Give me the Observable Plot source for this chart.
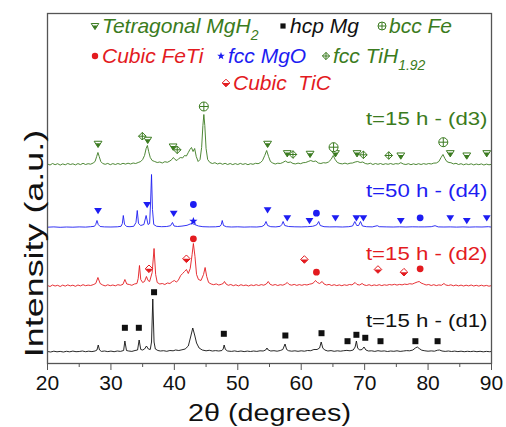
<!DOCTYPE html>
<html><head><meta charset="utf-8">
<script src="https://cdn.jsdelivr.net/npm/d3@7"></script>
<script src="https://cdn.jsdelivr.net/npm/@observablehq/plot@0.6"></script>
<style>
body{margin:0;background:#fff;}
#wrap{position:relative;width:506px;height:427px;font-family:"Liberation Sans",Arial,sans-serif;}
#wrap > svg{position:absolute;left:0;top:0;}
.leg{position:absolute;display:flex;align-items:center;height:26px;font-style:italic;font-size:21px;white-space:nowrap;line-height:26px;}
#wrap .leg svg{position:static;margin-right:2px;overflow:visible;}
.leg sub{font-size:14px;vertical-align:-7px;line-height:0;}
</style></head><body><div id="wrap"></div>
<script>
// ---- XRD patterns: [2theta, intensity above own baseline] ----
const d1 = [[20,0.5],[20.5,0],[21,0.8],[21.5,0.2],[22,0.6],[22.5,0],[23,0.7],[23.5,0.2],[24,0.9],[24.5,0.3],[25,0.5],[25.5,1],[26,0.3],[26.5,0.8],[27,0.4],[27.5,1],[27.8,2],[28,7],[28.2,2],[28.5,0.6],[29,1],[29.5,0.4],[30,0.9],[30.5,0.3],[31,1],[31.5,0.6],[32,1.5],[32.2,11],[32.45,1.5],[32.8,1],[33.3,0.6],[33.8,1.5],[34.2,2],[34.45,12],[34.7,2.5],[35,2],[35.3,3],[35.6,6],[35.9,3],[36.2,2.5],[36.4,10],[36.6,53],[36.8,10],[37,3],[37.4,1.5],[37.8,1],[38.3,1.3],[38.8,0.7],[39.3,1.5],[39.8,1.2],[40.2,2],[40.7,1.5],[41.2,2.2],[41.7,3],[42.2,6],[42.6,16],[42.9,24],[43.2,17],[43.5,9],[43.9,4],[44.4,2],[45,1.2],[45.5,1.7],[46,1],[46.5,1.4],[47,1],[47.5,1.5],[47.7,3],[47.85,7],[48.05,2.5],[48.4,1],[49,0.6],[49.5,1.1],[50,0.5],[50.5,1],[51,0.4],[51.5,0.9],[52,0.5],[52.5,1],[53,0.6],[53.5,1.2],[54,1],[54.4,2],[54.6,4],[54.8,2],[55.2,1],[55.7,1.3],[56.2,0.8],[56.7,1.5],[57.1,2.5],[57.45,8],[57.7,2.5],[58,1.3],[58.5,0.8],[59,1.2],[59.5,0.7],[60,1.2],[60.5,0.8],[61,1.5],[61.5,1.3],[62,2.5],[62.5,2.5],[62.9,4],[63.15,10],[63.4,4],[63.7,2],[64.2,1],[64.7,1.4],[65.2,0.7],[65.7,1.2],[66.2,0.8],[66.7,1.3],[67.2,1.6],[67.7,1.2],[68.2,2],[68.5,5],[68.7,11],[68.9,4],[69.2,2],[69.6,2.5],[69.9,5],[70.2,2],[70.6,1],[71.1,1.2],[71.6,0.6],[72.1,1.3],[72.6,0.8],[73.1,1.1],[73.6,0.5],[74.1,1],[74.6,0.7],[75.1,1.2],[75.6,0.6],[76.1,1],[76.6,1.4],[77.1,1.2],[77.6,2],[78,4],[78.3,5],[78.6,3.5],[79,1.8],[79.5,1.2],[80,0.8],[80.5,1.1],[81,0.8],[81.5,1.8],[81.8,2],[82.2,1],[82.7,0.6],[83.2,1],[83.7,0.5],[84.2,0.9],[84.7,0.4],[85.2,0.8],[85.7,0.3],[86.2,0.7],[86.7,0.4],[87.2,0.8],[87.7,0.3],[88.2,0.7],[88.7,0.2],[89.2,0.6],[89.7,0.3],[90,0.5]];
const d2 = [[20,1],[20.4,0],[20.8,1.5],[21.2,0.5],[21.6,1.2],[22,0],[22.4,1.4],[22.8,0.4],[23.2,1.6],[23.6,0.6],[24,1.3],[24.4,0.2],[24.8,1.5],[25.2,0.6],[25.6,1.8],[26,0.8],[26.4,1.4],[26.8,1],[27.2,1.8],[27.6,3],[27.95,9],[28.3,3],[28.7,1.5],[29.1,0.6],[29.5,1.7],[29.9,0.8],[30.3,1.5],[30.7,0.7],[31.1,1.8],[31.5,1.2],[31.9,2.2],[32.2,7],[32.5,2.5],[32.9,2],[33.3,1.2],[33.7,2.5],[34.1,3],[34.3,8],[34.5,21],[34.7,7],[35,4],[35.3,5],[35.6,10],[35.85,6],[36.1,5],[36.5,14],[36.8,38],[37.05,12],[37.3,4],[37.7,2.5],[38.1,3],[38.5,2],[38.9,3.5],[39.3,3],[39.7,5],[40,6],[40.3,4.5],[40.6,6],[41,11],[41.3,13],[41.6,15],[41.9,17],[42.2,13],[42.5,18],[42.8,32],[43,43],[43.25,30],[43.5,12],[43.8,7],[44.2,6],[44.6,12],[44.85,19],[45.1,10],[45.4,4],[45.8,2.5],[46.2,1.8],[46.6,2.6],[47,1.5],[47.4,2.2],[47.7,3],[47.9,5],[48.15,2.5],[48.5,1.2],[48.9,2],[49.3,0.8],[49.7,1.7],[50.1,0.6],[50.5,1.8],[50.9,0.9],[51.3,1.5],[51.7,0.5],[52.1,1.6],[52.5,0.9],[52.9,1.8],[53.3,1],[53.7,1.9],[54.1,1.3],[54.5,2.5],[54.8,5],[55.1,2.2],[55.5,1.2],[55.9,2],[56.3,1],[56.7,1.8],[57.1,1.3],[57.5,2.5],[57.8,4],[58.1,2],[58.5,1.3],[58.9,2.1],[59.3,1.1],[59.7,1.9],[60.1,1.2],[60.5,2],[60.9,1.5],[61.3,2.3],[61.7,2.8],[62,4],[62.25,6],[62.55,4],[62.9,3],[63.3,5],[63.6,2.5],[64,1.5],[64.4,2.1],[64.8,1],[65.2,1.8],[65.6,0.9],[66,1.6],[66.4,0.8],[66.8,1.7],[67.2,1.1],[67.6,2],[68,1.6],[68.5,4],[68.8,2],[69.2,1.5],[69.6,3],[69.9,1.6],[70.3,1],[70.7,1.8],[71.1,0.8],[71.5,1.6],[71.9,1],[72.3,1.8],[72.7,0.9],[73.1,1.7],[73.5,1.2],[73.9,2],[74.3,1.5],[74.7,2.2],[75.1,1.4],[75.5,2.1],[75.9,1.6],[76.3,2.4],[76.7,2],[77.1,2.8],[77.5,2.4],[77.9,3.5],[78.3,4.5],[78.6,5],[78.9,3.5],[79.3,2.5],[79.7,1.5],[80.1,2],[80.5,1],[80.9,1.8],[81.3,0.9],[81.7,1.6],[82.1,1.2],[82.5,3],[82.8,1.5],[83.2,1],[83.6,1.7],[84,0.7],[84.4,1.5],[84.8,0.6],[85.2,1.4],[85.6,0.5],[86,1.3],[86.4,0.6],[86.8,1.5],[87.2,0.5],[87.6,1.2],[88,0.4],[88.4,1.3],[88.8,0.5],[89.2,1.1],[89.6,0.3],[90,0.9]];
const d4 = [[20,0.3],[21,0.6],[22,0.2],[23,0.5],[24,0.3],[25,0.6],[26,0.4],[26.8,0.8],[27.4,1.2],[27.6,3],[27.8,7],[28,3],[28.3,1],[29,0.6],[30,0.5],[31,0.7],[31.6,1.2],[31.8,4],[31.95,12],[32.15,3],[32.5,1],[33,0.8],[33.6,1.2],[33.95,5],[34.15,17],[34.35,4],[34.7,2],[35.2,3],[35.55,12],[35.85,3],[36.1,4],[36.25,25],[36.4,53],[36.55,18],[36.75,3],[37.2,1.2],[38,0.8],[38.8,1],[39.4,1.8],[39.7,5],[39.95,1.5],[40.5,1],[41.2,1.4],[42,2.2],[42.5,3.5],[42.8,4],[43.2,3],[43.8,1.5],[44.5,0.8],[45.5,0.6],[46.5,0.7],[47.2,1.2],[47.4,3],[47.55,7],[47.75,2],[48.2,0.8],[49,0.5],[50,0.7],[51,0.4],[52,0.6],[53,0.5],[53.8,1],[54.2,2.5],[54.45,6],[54.7,2],[55.2,0.8],[56,0.6],[56.7,1.2],[56.95,3],[57.15,6],[57.4,2],[58,1],[59,0.7],[60,0.6],[61,0.8],[61.8,1.2],[62.2,2],[62.5,3],[62.75,6],[63,2],[63.6,0.8],[64.5,0.6],[65.5,0.7],[66.5,0.5],[67.5,0.8],[68.1,1.5],[68.45,6],[68.75,2],[69.05,2],[69.35,6],[69.65,1.5],[70.3,0.8],[71.2,0.6],[72,1.8],[72.3,0.8],[73.5,0.6],[74.5,0.5],[75.5,0.7],[76.5,0.5],[77.5,0.7],[78.5,0.6],[79.5,0.6],[80.5,0.8],[81.1,1.8],[81.6,0.6],[82.5,0.5],[83.5,0.6],[84.5,0.4],[85.5,0.6],[86.5,0.4],[87.5,0.6],[88.5,0.5],[89.5,0.8],[90,0.4]];
const d3 = [[20,1.5],[20.4,0.5],[20.8,2],[21.2,0.8],[21.6,1.8],[22,0.4],[22.4,1.6],[22.8,0.7],[23.2,2],[23.6,1],[24,1.7],[24.4,0.6],[24.8,1.9],[25.2,0.9],[25.6,2.2],[26,1],[26.4,1.8],[26.8,1.3],[27.2,2.5],[27.5,4],[27.75,9],[27.95,13],[28.15,9],[28.4,4],[28.7,2],[29.1,1.2],[29.5,2.1],[29.9,0.8],[30.3,1.9],[30.7,1],[31.1,2],[31.5,1.1],[31.9,2.2],[32.3,1.4],[32.7,2.3],[33.1,1.5],[33.5,2.5],[33.9,2],[34.3,3],[34.7,4],[35,6],[35.3,10],[35.55,17],[35.75,20],[35.95,14],[36.2,8],[36.5,5],[36.9,4],[37.3,3],[37.7,3.5],[38.1,2.5],[38.5,3.8],[38.9,3.2],[39.3,4.5],[39.6,6],[39.85,8],[40.1,6],[40.4,5],[40.7,7],[41,8],[41.3,7.5],[41.6,10],[41.9,9.5],[42.2,13],[42.45,16],[42.7,18],[42.95,14],[43.2,17],[43.45,9],[43.75,4],[44.05,6],[44.3,18],[44.5,40],[44.65,51],[44.8,40],[45,17],[45.25,6],[45.6,3],[46,2],[46.4,2.8],[46.8,1.5],[47.2,2.4],[47.6,1.2],[48,2.2],[48.4,1],[48.8,2],[49.2,0.9],[49.6,1.9],[50,1],[50.4,2.1],[50.8,1.1],[51.2,1.9],[51.6,0.8],[52,1.8],[52.4,1.2],[52.8,2.2],[53.2,1.8],[53.6,3],[53.9,5],[54.25,10],[54.55,15],[54.85,9],[55.15,4],[55.5,2.5],[55.9,1.5],[56.3,2.3],[56.7,2],[57.1,3],[57.5,4.5],[57.9,3],[58.3,3.5],[58.7,2],[59.1,1.6],[59.5,2.4],[59.9,1.8],[60.3,2.8],[60.7,3],[61.1,4],[61.5,5],[61.9,4],[62.3,4.5],[62.7,2.5],[63.1,2],[63.5,2.8],[63.9,2.5],[64.3,3.5],[64.7,6],[65.05,10],[65.35,6],[65.7,3],[66.1,2],[66.5,1.6],[66.9,2.4],[67.3,1.5],[67.7,2.3],[68.1,2.5],[68.5,3.5],[68.9,4],[69.3,3],[69.7,3.5],[70.1,2],[70.5,1.5],[70.9,2.3],[71.3,1],[71.7,2],[72.1,1.2],[72.5,2],[72.9,1],[73.3,1.8],[73.7,1.2],[74.1,2],[74.5,1.1],[74.9,1.9],[75.3,1.5],[75.7,2.8],[76.1,1.5],[76.5,1],[76.9,1.8],[77.3,0.8],[77.7,1.7],[78.1,0.9],[78.5,1.8],[78.9,1],[79.3,1.9],[79.7,1.2],[80.1,2],[80.5,1.5],[80.9,2.4],[81.3,2.5],[81.7,4],[82.05,8],[82.35,11],[82.65,7],[82.95,4],[83.3,3],[83.6,2.8],[84,1.6],[84.4,2.2],[84.8,1],[85.2,1.8],[85.6,0.7],[86,1.6],[86.4,0.9],[86.8,1.7],[87.2,0.6],[87.6,1.5],[88,0.8],[88.4,1.6],[88.8,0.5],[89.2,1.4],[89.6,0.7],[90,1.2]];

// vertical offsets of the stacked patterns (intensity units)
const seriesNames = ["d1", "d2", "d4", "d3"];
const seriesOffsets = [11.5, 77, 136, 198];
const seriesLabels = ["t=15 h - (d1)", "t=15 h - (d2)", "t=50 h - (d4)", "t=15 h - (d3)"];

// ---- phase markers: [2theta, level] ----
const mgh2Green = [[27.97,219.7],[35.8,223.7],[39.8,217],[54.7,219.7],[57.8,210.3],[61.4,209.7],[65.4,210.3],[68.8,210.3],[75.7,208],[83.5,210.3],[86.1,208],[89.25,210.3]];
const feGreen = [[44.65,257],[65.1,216.3],[82.4,221.3]];
const tihGreen = [[34.95,227.3],[40.45,213.7],[58.7,209],[69.8,208.7],[73.8,208]];
const mgh2Blue = [[27.97,153],[35.7,159],[39.9,150.3],[54.7,153.7],[57.8,145.7],[61.3,143],[65.4,145.7],[68.7,145.7],[69.8,145.7],[75.7,143],[83.5,145.7],[86.1,143],[89.25,145.7]];
const fetiBlue = [[43,159],[62.4,150.3],[78.75,145.7]];
const mgoBlue = [[43,142.3]];
const fetiRed = [[43,124.7],[62.4,91.3],[78.75,94.7]];
const ticRed = [[36,94.7],[41.9,104.7],[60.5,104],[72.1,94],[76.2,91.3]];
const mgBlack = [[32.2,35.7],[34.4,35.7],[36.8,71.3],[47.8,29.7],[57.5,28],[63.2,30.3],[67.3,22.3],[68.7,28.7],[70.1,25.7],[72.5,22.3],[78,22.3],[81.5,22.3]];

const majorTicks = [20, 30, 40, 50, 60, 70, 80, 90];
const minorTicks = [25, 35, 45, 55, 65, 75, 85];

const GREEN = "#3b7b20", RED = "#e31b1f", BLUE = "#1d1df2", BLACK = "#111111";
const seriesColors = [BLACK, RED, BLUE, GREEN];

// custom symbols (size = pi r^2)
function sym(f) { return {draw(c, size) { f(c, Math.sqrt(size / Math.PI)); }}; }
const triDown = sym((c, r) => { c.moveTo(-r, -0.65 * r); c.lineTo(r, -0.65 * r); c.lineTo(0, 0.95 * r); c.closePath(); });
const triDownLow = sym((c, r) => { c.moveTo(-0.69 * r, -0.15 * r); c.lineTo(0.69 * r, -0.15 * r); c.lineTo(0, 0.95 * r); c.closePath(); });
const circleSym = sym((c, r) => { c.moveTo(r, 0); c.arc(0, 0, r, 0, 2 * Math.PI); });
const circlePlus = sym((c, r) => { c.moveTo(r, 0); c.arc(0, 0, r, 0, 2 * Math.PI); c.moveTo(-r, 0); c.lineTo(r, 0); c.moveTo(0, -r); c.lineTo(0, r); });
const diamondPlus = sym((c, r) => { c.moveTo(0, -r); c.lineTo(r, 0); c.lineTo(0, r); c.lineTo(-r, 0); c.closePath(); c.moveTo(-r, 0); c.lineTo(r, 0); c.moveTo(0, -r); c.lineTo(0, r); });
const diamondOut = sym((c, r) => { c.moveTo(0, -r); c.lineTo(r, 0); c.lineTo(0, r); c.lineTo(-r, 0); c.closePath(); });
const diamondLow = sym((c, r) => { c.moveTo(-r, 0); c.lineTo(r, 0); c.lineTo(0, r); c.closePath(); });
const squareSym = sym((c, r) => { c.moveTo(-r, -r); c.lineTo(r, -r); c.lineTo(r, r); c.lineTo(-r, r); c.closePath(); });
const starSym = sym((c, r) => {
  for (let k = 0; k < 10; k++) {
    const a = -Math.PI / 2 + k * Math.PI / 5, rr = k % 2 ? r * 0.42 : r;
    k ? c.lineTo(rr * Math.cos(a), rr * Math.sin(a)) : c.moveTo(rr * Math.cos(a), rr * Math.sin(a));
  }
  c.closePath();
});

const pt = a => a.map(([t, y]) => ({t, y}));
const patterns = [d1, d2, d4, d3];
const lineMarks = patterns.map((p, i) =>
  Plot.line(p.map(([t, v]) => ({t, y: v + seriesOffsets[i]})), {x: "t", y: "y", stroke: seriesColors[i], strokeWidth: 0.9}));

const labelLift = [31.5, 33, 37, 47];
const labelRows = seriesLabels.map((s, i) => ({s, y: seriesOffsets[i] + labelLift[i], c: seriesColors[i]}));

const FONT = "Liberation Sans, Arial, sans-serif";
const chart = Plot.plot({
  width: 506, height: 427,
  marginLeft: 47, marginRight: 15, marginTop: 13, marginBottom: 64,
  x: {domain: [20, 90]},
  y: {domain: [0, 350], axis: null},
  style: {fontFamily: FONT, background: "white", color: "#111"},
  marks: [
    ...lineMarks,
    Plot.dot(pt(mgh2Green), {x: "t", y: "y", symbol: triDown, r: 3.9, fill: "white", stroke: GREEN, strokeWidth: 1}),
    Plot.dot(pt(mgh2Green), {x: "t", y: "y", symbol: triDownLow, r: 3.9, fill: GREEN}),
    Plot.dot(pt(feGreen), {x: "t", y: "y", symbol: circlePlus, r: 4.5, fill: "white", stroke: GREEN, strokeWidth: 1}),
    Plot.dot(pt(tihGreen), {x: "t", y: "y", symbol: diamondPlus, r: 3.8, fill: "white", stroke: GREEN, strokeWidth: 1}),
    Plot.dot(pt(mgh2Blue), {x: "t", y: "y", symbol: triDown, r: 3.9, fill: BLUE}),
    Plot.dot(pt(fetiBlue), {x: "t", y: "y", symbol: circleSym, r: 3.4, fill: BLUE}),
    Plot.dot(pt(mgoBlue), {x: "t", y: "y", symbol: starSym, r: 4.3, fill: BLUE}),
    Plot.dot(pt(fetiRed), {x: "t", y: "y", symbol: circleSym, r: 3.4, fill: RED}),
    Plot.dot(pt(ticRed), {x: "t", y: "y", symbol: diamondOut, r: 3.8, fill: "white", stroke: RED, strokeWidth: 1}),
    Plot.dot(pt(ticRed), {x: "t", y: "y", symbol: diamondLow, r: 3.8, fill: RED}),
    Plot.dot(pt(mgBlack), {x: "t", y: "y", symbol: squareSym, r: 3, fill: BLACK}),
    Plot.text(labelRows, {y: "y", text: "s", fill: d => d.c, frameAnchor: "right", dx: -4, fontSize: 19}),
    Plot.frame({stroke: "#555", strokeWidth: 1.3}),
    Plot.axisX({ticks: majorTicks, tickSize: 7, tickPadding: 5, fontSize: 21, stroke: "#555", label: null, tickFormat: d => String(d)}),
    Plot.axisX({ticks: minorTicks, tickSize: 4, stroke: "#555", label: null, tickFormat: () => ""}),
    Plot.text(["2θ (degrees)"], {text: d => d, frameAnchor: "bottom", textAnchor: "middle", lineAnchor: "middle", dy: 50, fontSize: 23, fill: "#111"}),
    Plot.text(["Intensity (a.u.)"], {text: d => d, frameAnchor: "left", textAnchor: "middle", lineAnchor: "middle", rotate: -90, dx: -13, dy: 55, fontSize: 26, fill: "#111"})
  ]
});

function stretch(svg, str, sx) {
  for (const t of svg.querySelectorAll("text")) {
    if (t.textContent === str) t.setAttribute("transform", (t.getAttribute("transform") || "") + ` scale(${sx},1)`);
  }
}
stretch(chart, "2θ (degrees)", 1.25);
stretch(chart, "Intensity (a.u.)", 1.38);
for (const s of seriesLabels) stretch(chart, s, 1.17);

const wrap = document.getElementById("wrap");
wrap.appendChild(chart);

// ---- legend (inside the frame) ----
function symPath(type, r) {
  let s = "";
  const c = {
    moveTo(x, y) { s += `M${x.toFixed(2)},${y.toFixed(2)}`; },
    lineTo(x, y) { s += `L${x.toFixed(2)},${y.toFixed(2)}`; },
    closePath() { s += "Z"; },
    arc(x, y, q) { s += `M${x + q},${y}A${q},${q},0,1,1,${x - q},${y}A${q},${q},0,1,1,${x + q},${y}`; }
  };
  type.draw(c, Math.PI * r * r);
  return s;
}
const legendShapes = {
  mgh2: [`<path d="${symPath(triDown, 3.8)}" fill="white" stroke="${GREEN}"/>`, `<path d="${symPath(triDownLow, 3.8)}" fill="${GREEN}"/>`],
  mg: [`<path d="${symPath(squareSym, 2.6)}" fill="${BLACK}"/>`],
  fe: [`<path d="${symPath(circlePlus, 4)}" fill="white" stroke="${GREEN}"/>`],
  feti: [`<path d="${symPath(circleSym, 3.2)}" fill="${RED}"/>`],
  mgo: [`<path d="${symPath(starSym, 4)}" fill="${BLUE}"/>`],
  tih: [`<path d="${symPath(diamondPlus, 3.6)}" fill="white" stroke="${GREEN}"/>`],
  tic: [`<path d="${symPath(diamondOut, 3.8)}" fill="white" stroke="${RED}"/>`, `<path d="${symPath(diamondLow, 3.8)}" fill="${RED}"/>`]
};
const legendItems = [
  {k: "mgh2", html: "Tetragonal MgH<sub>2</sub>", color: GREEN, left: 90, cy: 26},
  {k: "mg", html: "hcp Mg", color: BLACK, left: 278, cy: 26},
  {k: "fe", html: "bcc Fe", color: GREEN, left: 377, cy: 26},
  {k: "feti", html: "Cubic FeTi", color: RED, left: 90, cy: 56},
  {k: "mgo", html: "fcc MgO", color: BLUE, left: 216, cy: 56},
  {k: "tih", html: "fcc TiH<sub>1.92</sub>", color: GREEN, left: 321, cy: 56},
  {k: "tic", html: "Cubic&nbsp; TiC", color: RED, left: 221, cy: 82.5}
];
for (const it of legendItems) {
  const div = document.createElement("div");
  div.className = "leg";
  div.style.left = it.left + "px";
  div.style.top = (it.cy - 13) + "px";
  div.style.color = it.color;
  div.innerHTML = `<svg width="10" height="10" viewBox="-5 -5 10 10">${legendShapes[it.k].join("")}</svg><span>${it.html}</span>`;
  wrap.appendChild(div);
}
</script></body></html>
